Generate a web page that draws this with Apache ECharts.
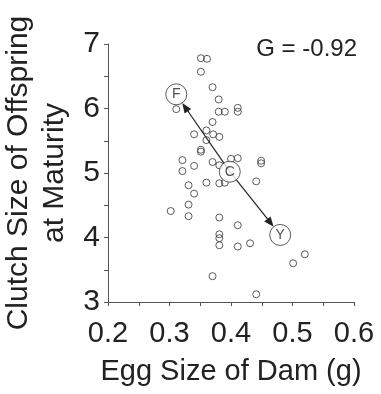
<!DOCTYPE html>
<html><head><meta charset="utf-8">
<script src="https://cdn.jsdelivr.net/npm/echarts@6/dist/echarts.min.js"></script>
<style>html,body{margin:0;padding:0;background:#fff}#c{width:381px;height:394px}</style>
</head><body><div id="c"></div>
<script>
// Individual dams: egg size (g) and clutch size of offspring at maturity
const eggSize = [0.351,0.361,0.351,0.370,0.311,0.380,0.380,0.390,0.411,0.411,
  0.370,0.340,0.360,0.371,0.381,0.360,0.351,0.351,0.321,0.321,
  0.340,0.370,0.400,0.411,0.381,0.449,0.449,0.441,0.331,0.360,
  0.381,0.390,0.340,0.331,0.302,0.331,0.381,0.411,0.381,0.381,
  0.381,0.411,0.431,0.501,0.520,0.370,0.441];
const clutchSize = [6.78,6.77,6.57,6.33,5.99,6.14,5.95,5.95,6.01,5.95,
  5.79,5.60,5.66,5.60,5.56,5.51,5.36,5.33,5.20,5.03,
  5.11,5.17,5.22,5.23,5.12,5.19,5.15,4.87,4.81,4.85,
  4.84,4.85,4.68,4.51,4.41,4.33,4.31,4.19,4.05,3.99,
  3.88,3.86,3.91,3.60,3.74,3.40,3.12];
// Group means: F, C, Y
const groupLabels = ['F','C','Y'];
const groupEgg = [0.311,0.398,0.480];
const groupClutch = [6.22,5.02,4.04];
const xTicks = [0.2,0.3,0.4,0.5,0.6];
const yTicks = [3,4,5,6,7];
const statText = 'G = -0.92';
const xTitle = 'Egg Size of Dam (g)';
const yTitle = 'Clutch Size of Offspring\nat Maturity';

const FONT = '"Liberation Sans", Arial, sans-serif';
const INK = '#222';
const chart = echarts.init(document.getElementById('c'), null, {renderer:'canvas'});

const pts = eggSize.map((x,i)=>[x, clutchSize[i]]);
const groups = groupLabels.map((l,i)=>({value:[groupEgg[i], groupClutch[i]], name:l}));
const ci = groupLabels.indexOf('C');
const arrows = groupLabels.map((l,i)=>i).filter(i=>i!==ci)
  .map(i=>[groupEgg[ci], groupClutch[ci], groupEgg[i], groupClutch[i]]);

chart.setOption({
  animation:false,
  backgroundColor:'#fff',
  grid:{left:108, right:27, top:44, bottom:92, containLabel:false, outerBoundsMode:'none'},
  xAxis:{
    type:'value', min:xTicks[0], max:xTicks[xTicks.length-1], interval:0.1,
    name:xTitle, nameLocation:'middle', nameGap:55,
    nameTextStyle:{fontFamily:FONT, fontSize:29, color:INK},
    axisLine:{show:true, lineStyle:{color:'#555', width:1}},
    axisTick:{show:true, length:4, lineStyle:{color:'#555'}},
    minorTick:{show:true, splitNumber:2, length:4, lineStyle:{color:'#555'}},
    splitLine:{show:false},
    axisLabel:{fontFamily:FONT, fontSize:29, color:INK, margin:17,
      formatter:v=>v.toFixed(1)}
  },
  yAxis:{
    type:'value', min:yTicks[0], max:yTicks[yTicks.length-1], interval:1,
    name:yTitle, nameLocation:'middle', nameGap:33,
    nameTextStyle:{fontFamily:FONT, fontSize:30, color:INK, lineHeight:36},
    axisLine:{show:true, lineStyle:{color:'#555', width:1}},
    axisTick:{show:true, length:4, lineStyle:{color:'#555'}},
    minorTick:{show:true, splitNumber:2, length:4, lineStyle:{color:'#555'}},
    splitLine:{show:false},
    axisLabel:{fontFamily:FONT, fontSize:30, color:INK, margin:8}
  },
  graphic:[{
    type:'text', right:24, top:37,
    style:{text:statText, fontFamily:FONT, fontSize:24, fill:INK}
  }],
  series:[
    {
      type:'scatter', data:pts, symbol:'circle', symbolSize:7, z:2,
      itemStyle:{color:'rgba(255,255,255,0)', borderColor:'#333', borderWidth:1}
    },
    {
      type:'custom', data:arrows, z:3,
      renderItem:function(params, api){
        const p0 = api.coord([api.value(0), api.value(1)]);
        const p1 = api.coord([api.value(2), api.value(3)]);
        const dx=p1[0]-p0[0], dy=p1[1]-p0[1], L=Math.hypot(dx,dy);
        const ux=dx/L, uy=dy/L, nx=-uy, ny=ux;
        const r=10.5, hl=10, hw=4;
        const tip=[p1[0]-ux*r, p1[1]-uy*r];
        const base=[tip[0]-ux*hl, tip[1]-uy*hl];
        return {type:'group', children:[
          {type:'line', shape:{x1:p0[0],y1:p0[1],x2:base[0]+ux*2,y2:base[1]+uy*2},
            style:{stroke:INK, lineWidth:1.2}},
          {type:'polygon', shape:{points:[tip,[base[0]+nx*hw,base[1]+ny*hw],[base[0]-nx*hw,base[1]-ny*hw]]},
            style:{fill:INK}}
        ]};
      }
    },
    {
      type:'scatter', data:groups, symbol:'circle', symbolSize:21, z:4,
      itemStyle:{color:'#fff', borderColor:'#333', borderWidth:1},
      label:{show:true, position:'inside', formatter:p=>p.name,
        fontFamily:FONT, fontSize:14, color:INK}
    }
  ]
});
</script>
</body></html>
